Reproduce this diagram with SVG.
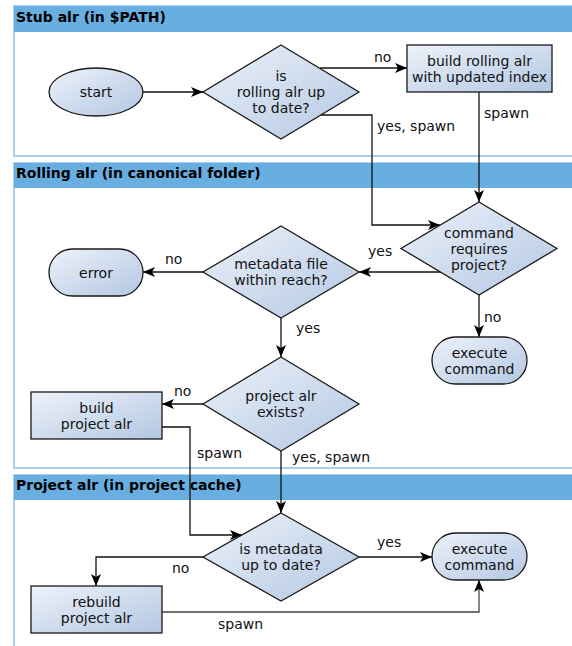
<svg xmlns="http://www.w3.org/2000/svg" width="572" height="646" viewBox="0 0 572 646">
<defs>
<linearGradient id="g" x1="0" y1="0" x2="1" y2="1">
<stop offset="0" stop-color="#edf2fa"/>
<stop offset="1" stop-color="#b3c7e2"/>
</linearGradient>
<marker id="ah" viewBox="0 0 12 10" refX="12" refY="5" markerWidth="12" markerHeight="10" markerUnits="userSpaceOnUse" orient="auto">
<path d="M0,0 L12,5 L0,10 L3,5 z" fill="#000"/>
</marker>
<style>
.lane{fill:#fff;stroke:#8cc3ec;stroke-width:1.5}
.hdr{fill:#68aee0}
.ht{font-family:"DejaVu Sans",Verdana,sans-serif;font-size:14px;font-weight:bold;fill:#000}
.n{fill:url(#g);stroke:#1a1a1a;stroke-width:1.3}
.t{font-family:"DejaVu Sans",Verdana,sans-serif;font-size:14px;fill:#111;text-anchor:middle}
.l{font-family:"DejaVu Sans",Verdana,sans-serif;font-size:14px;fill:#111}
.c{fill:none;stroke:#111;stroke-width:1.3;marker-end:url(#ah)}
</style>
</defs>
<rect width="572" height="646" fill="#fff"/>
<g id="lanes">
<rect class="lane" x="14" y="6" width="560" height="150"/>
<rect class="hdr" x="14" y="6" width="558" height="26"/>
<text class="ht" x="16" y="22">Stub alr (in $PATH)</text>
<rect class="lane" x="14" y="163" width="560" height="305"/>
<rect class="hdr" x="14" y="163" width="558" height="25"/>
<text class="ht" x="16" y="178">Rolling alr (in canonical folder)</text>
<rect class="lane" x="14" y="475" width="560" height="180"/>
<rect class="hdr" x="14" y="475" width="558" height="25"/>
<text class="ht" x="16" y="490">Project alr (in project cache)</text>
</g>
<g id="connectors">
<path class="c" d="M143,92 L203,92"/>
<path class="c" d="M320,68 L407,68"/>
<path class="c" d="M321,115 L372,115 L372,225 L440,225"/>
<path class="c" d="M479,92 L479,202"/>
<path class="c" d="M441,272 L359,272"/>
<path class="c" d="M203,272 L143,272"/>
<path class="c" d="M281,318 L281,357"/>
<path class="c" d="M203,404 L162,404"/>
<path class="c" d="M479,295 L479,337"/>
<path class="c" d="M162,427 L190,427 L190,535 L242,535"/>
<path class="c" d="M281,451 L281,513"/>
<path class="c" d="M359,557 L432,557"/>
<path class="c" d="M203,557 L96,557 L96,586"/>
<path class="c" d="M162,612 L479,612 L479,580" style="stroke:#444"/>
<text class="l" x="374" y="62">no</text>
<text class="l" x="377" y="131">yes, spawn</text>
<text class="l" x="484" y="118">spawn</text>
<text class="l" x="368" y="256">yes</text>
<text class="l" x="165" y="264">no</text>
<text class="l" x="296" y="333">yes</text>
<text class="l" x="484" y="322">no</text>
<text class="l" x="174" y="396">no</text>
<text class="l" x="197" y="458">spawn</text>
<text class="l" x="292" y="462">yes, spawn</text>
<text class="l" x="377" y="547">yes</text>
<text class="l" x="172" y="573">no</text>
<text class="l" x="218" y="629">spawn</text>
</g>
<g id="start">
<ellipse class="n" cx="96" cy="92" rx="47" ry="24"/>
<text class="t" x="96" y="97">start</text>
</g>
<g id="rolling-up-to-date">
<polygon class="n" points="281,45 359,92 281,139 203,92"/>
<text class="t" x="281" y="81">is</text>
<text class="t" x="281" y="97">rolling alr up</text>
<text class="t" x="281" y="113">to date?</text>
</g>
<g id="build-rolling">
<rect class="n" x="407" y="45" width="145" height="47"/>
<text class="t" x="479.5" y="66">build rolling alr</text>
<text class="t" x="479.5" y="82">with updated index</text>
</g>
<g id="command-requires-project">
<polygon class="n" points="479,202 557,248.5 479,295 401,248.5"/>
<text class="t" x="479" y="238">command</text>
<text class="t" x="479" y="254">requires</text>
<text class="t" x="479" y="270">project?</text>
</g>
<g id="metadata-within-reach">
<polygon class="n" points="281,226 359,272 281,318 203,272"/>
<text class="t" x="281" y="269">metadata file</text>
<text class="t" x="281" y="285">within reach?</text>
</g>
<g id="error">
<rect class="n" x="49" y="249" width="94" height="47" rx="23.5"/>
<text class="t" x="96" y="278">error</text>
</g>
<g id="execute-command-1">
<rect class="n" x="432" y="337" width="95" height="47" rx="23.5"/>
<text class="t" x="479.5" y="358">execute</text>
<text class="t" x="479.5" y="374">command</text>
</g>
<g id="project-alr-exists">
<polygon class="n" points="281,357 359,404 281,451 203,404"/>
<text class="t" x="281" y="401">project alr</text>
<text class="t" x="281" y="417">exists?</text>
</g>
<g id="build-project">
<rect class="n" x="31" y="392" width="131" height="47"/>
<text class="t" x="96.5" y="413">build</text>
<text class="t" x="96.5" y="429">project alr</text>
</g>
<g id="metadata-up-to-date">
<polygon class="n" points="281,513 359,557 281,601 203,557"/>
<text class="t" x="281" y="554">is metadata</text>
<text class="t" x="281" y="570">up to date?</text>
</g>
<g id="execute-command-2">
<rect class="n" x="432" y="533" width="95" height="47" rx="23.5"/>
<text class="t" x="479.5" y="554">execute</text>
<text class="t" x="479.5" y="570">command</text>
</g>
<g id="rebuild-project">
<rect class="n" x="31" y="586" width="131" height="47"/>
<text class="t" x="96.5" y="607">rebuild</text>
<text class="t" x="96.5" y="623">project alr</text>
</g>
</svg>
